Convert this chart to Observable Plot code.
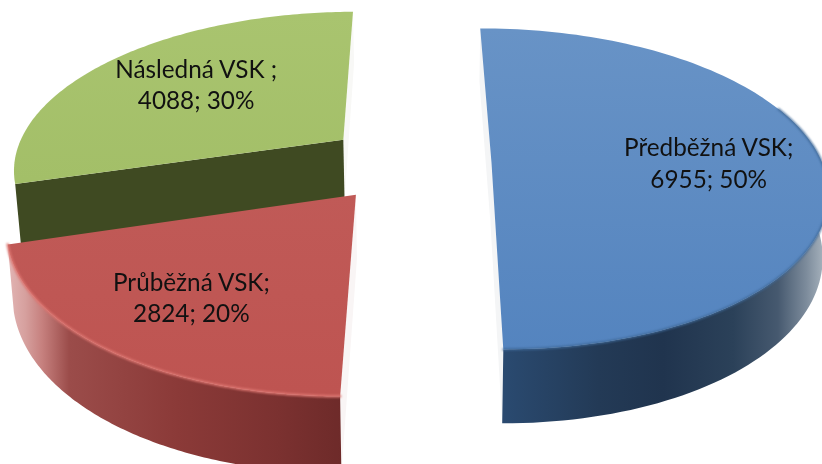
<!DOCTYPE html>
<html><head><meta charset="utf-8">
<script src="https://cdn.jsdelivr.net/npm/d3@7"></script>
<script src="https://cdn.jsdelivr.net/npm/@observablehq/plot@0.6"></script>
<style>html,body{margin:0;padding:0;background:#fff}svg{display:block}</style>
</head><body><div id="chart"></div>
<script>
const categories = ["Předběžná VSK", "Průběžná VSK", "Následná VSK"];
const values = [6955, 2824, 4088];
const percents = [50, 20, 30];
const labelTexts = ["Předběžná VSK;\n6955; 50%", "Průběžná VSK;\n2824; 20%", "Následná VSK ;\n4088; 30%"];

// Perspective camera of the exploded 3-D pie
const W = 822, H = 464;
const cam = {vx: 426, vy: -777, a: 2004, b: 5648, d: 6.016, cu: -0.055, explode: 0.25, depth: 371, squeeze: 0.0145, rimX: 0.992, turn: -0.007};
const project = (u, v, bottom = false) => {
  const s = 1 / (cam.d - v);
  const x0 = cam.a * u * s;
  return {
    x: cam.vx + x0 * (bottom ? 1 - cam.squeeze : 1),
    y: cam.vy + (cam.b + (bottom ? cam.depth : 0)) * s
  };
};
const pie = d3.pie().sort(null).startAngle(cam.turn).endAngle(2 * Math.PI + cam.turn)(values);
const slices = pie.map((p, i) => {
  const mid = (p.startAngle + p.endAngle) / 2;
  const ou = cam.cu + cam.explode * Math.sin(mid), ov = -cam.explode * Math.cos(mid);
  const rim = (t, r = 1) => [ou + r * cam.rimX * Math.sin(t), ov - r * Math.cos(t)];
  const angles = d3.range(0, 121).map(k => p.startAngle + (p.endAngle - p.startAngle) * k / 120);
  return {i, mid, ou, ov, rim, angles, a0: p.startAngle, a1: p.endAngle};
});
const topFace = s => [project(s.ou, s.ov), ...s.angles.map(t => project(...s.rim(t)))];
// only the part of the rim that faces the viewer has a visible wall
const front = s => s.angles.filter(t => t > 1.2);
const rimTop = s => front(s).map(t => project(...s.rim(t)));
const sideFace = s => [
  ...front(s).map(t => project(...s.rim(t))),
  ...front(s).reverse().map(t => project(...s.rim(t), true))
];
const cutFace = (s, t) => [
  project(s.ou, s.ov), project(...s.rim(t)), project(...s.rim(t), true), project(s.ou, s.ov, true)
];
const [blue, red, green] = slices;
const labelRadius = [0.65, 0.69, 0.68];
const labelNudge = [2.5, -1, 13];
const labels = slices.map((s, i) => {
  const p = project(...s.rim(s.mid, labelRadius[i]));
  return {x: p.x + labelNudge[i], y: p.y, text: labelTexts[i]};
});

const stops = a => a.map(([o, c]) => `<stop offset="${o}" stop-color="${c}"/>`).join("");
const grad = (id, x1, y1, x2, y2, a) =>
  `<linearGradient id="${id}" gradientUnits="userSpaceOnUse" x1="${x1}" y1="${y1}" x2="${x2}" y2="${y2}">${stops(a)}</linearGradient>`;
const defsMark = () => {
  const g = document.createElementNS("http://www.w3.org/2000/svg", "defs");
  g.innerHTML =
    grad("blueTop", 0, 28, 0, 350, [[0, "#6893c6"], [1, "#5484bf"]]) +
    grad("greenTop", 0, 12, 0, 180, [[0, "#a9c46f"], [1, "#a3bf68"]]) +
    grad("redTop", 0, 193, 0, 393, [[0, "#c05a57"], [1, "#be5451"]]) +
    grad("blueSide", 503, 0, 822, 0, [[0, "#2a4a70"], [0.3, "#233a56"], [0.5, "#20344e"], [0.72, "#2b4159"], [0.86, "#46596f"], [0.95, "#7d8c9c"], [1, "#a3afba"]]) +
    grad("redSide", 8, 0, 345, 0, [[0, "#e2b4b3"], [0.05, "#d6a09e"], [0.1, "#c6807e"], [0.18, "#9b4c4a"], [0.5, "#8b3a38"], [0.8, "#7b3130"], [1, "#6d2a29"]]);
  return g;
};
const poly = (pts, fill, extra = {}) =>
  Plot.line(pts, {x: "x", y: "y", curve: "linear-closed", fill, stroke: "none", ...extra});

const chart = Plot.plot({
  width: W, height: H, margin: 0,
  x: {domain: [0, W], range: [0, W], axis: null},
  y: {domain: [0, H], range: [0, H], axis: null},
  style: {background: "#fff"},
  marks: [
    defsMark,
    // faint cut faces
    poly(cutFace(blue, blue.a0), "#f4f5f6"),
    poly(cutFace(blue, blue.a1), "#f4f5f6"),
    poly(cutFace(green, green.a1), "#f8f8f6"),
    poly(cutFace(red, red.a0), "#f9f5f5"),
    // green
    poly(cutFace(green, green.a0), "#3f4a22"),
    poly(topFace(green), "url(#greenTop)"),
    // blue
    poly(sideFace(blue), "url(#blueSide)"),
    poly(topFace(blue), "url(#blueTop)"),
    Plot.line(rimTop(blue), {x: "x", y: "y", stroke: "#3f6998", strokeWidth: 2, imageFilter: "blur(1px)"}),
    // red
    poly(sideFace(red), "url(#redSide)"),
    poly(topFace(red), "url(#redTop)"),
    Plot.line(rimTop(red), {x: "x", y: "y", stroke: "#dc7570", strokeWidth: 2.5, imageFilter: "blur(1px)"}),
    Plot.text(labels, {
      x: "x", y: "y", text: "text", fill: "#111", fontSize: 24.3, lineHeight: 1.28,
      fontFamily: "Lato, 'Open Sans', sans-serif", textAnchor: "middle", imageFilter: "blur(0.3px)"
    })
  ]
});
document.getElementById("chart").append(chart);
</script></body></html>
